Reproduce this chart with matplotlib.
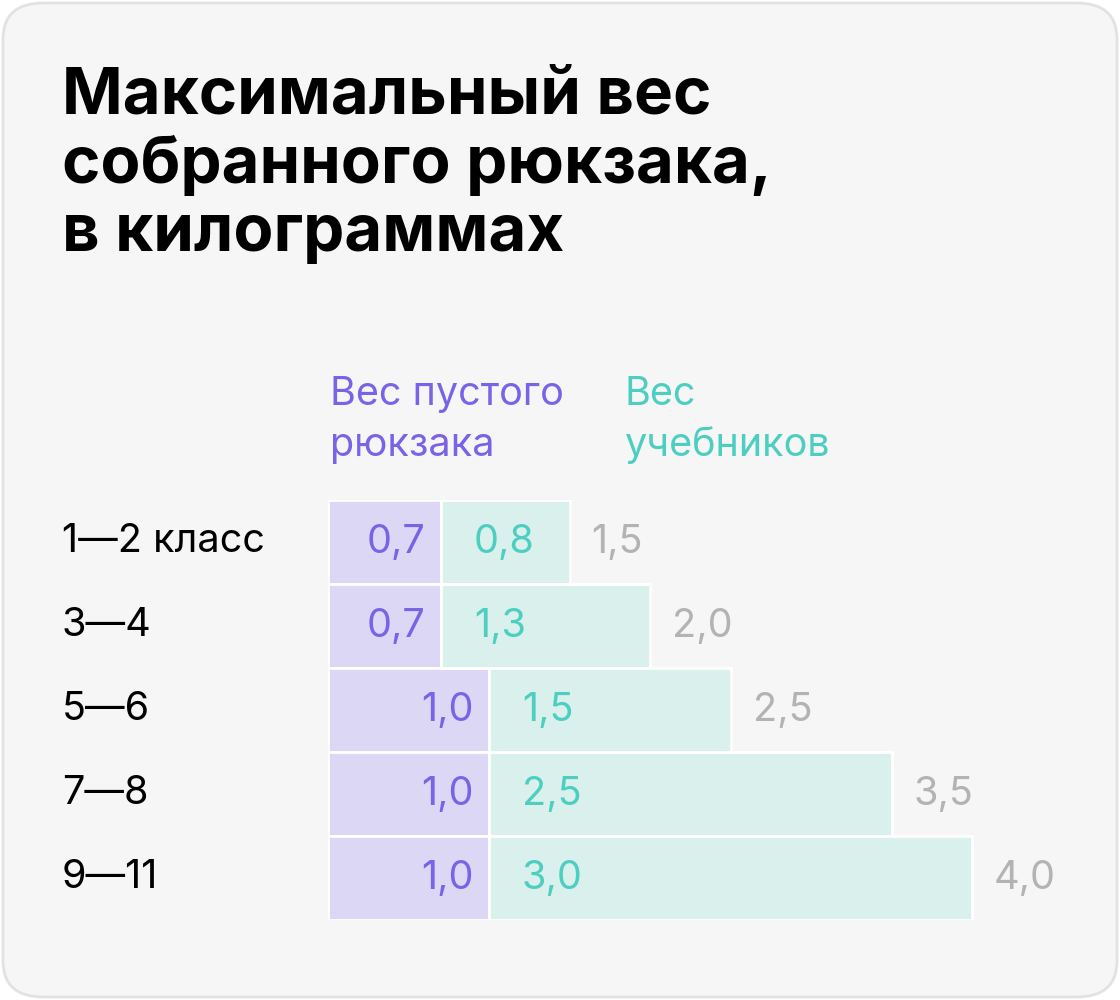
import matplotlib
matplotlib.use("Agg")
import matplotlib.pyplot as plt
from matplotlib.patches import FancyBboxPatch

plt.rcParams["font.family"] = "Inter"

# data
categories = ["1—2 класс", "3—4", "5—6", "7—8", "9—11"]
empty_bag = [0.7, 0.7, 1.0, 1.0, 1.0]
books = [0.8, 1.3, 1.5, 2.5, 3.0]
totals = [1.5, 2.0, 2.5, 3.5, 4.0]

title = "Максимальный вес\nсобранного рюкзака,\nв килограммах"
legend_empty = "Вес пустого\nрюкзака"
legend_books = "Вес\nучебников"

purple_bar = "#ddd7f6"
purple_txt = "#7a63e6"
teal_bar = "#d9f0ec"
teal_txt = "#4ccfc0"
gray_txt = "#b3b3b3"

W, H = 1120, 1000
fig = plt.figure(figsize=(W / 100, H / 100), dpi=100)
fig.patch.set_facecolor("white")

card = FancyBboxPatch((3 / W, 3 / H), 1114 / W, 994 / H,
                      boxstyle="round,pad=0,rounding_size=0.036",
                      transform=fig.transFigure, facecolor="#f6f6f6",
                      edgecolor="#e2e2e2", linewidth=2, zorder=-10)
fig.patches.append(card)

fig.text(62 / W, 1 - 66 / H, title, fontsize=47, fontweight="bold",
         va="top", ha="left", linespacing=1.18, color="black")

fig.text(330 / W, 1 - 420 / H, legend_empty, fontsize=28.5, color=purple_txt,
         va="center", ha="left", linespacing=1.45)
fig.text(625 / W, 1 - 420 / H, legend_books, fontsize=28.5, color=teal_txt,
         va="center", ha="left", linespacing=1.45)

px_per_kg = 161
x0, y_top, y_bot = 328, 500, 920
ax = fig.add_axes([x0 / W, 1 - y_bot / H, (W - x0) / W, (y_bot - y_top) / H])
ax.set_xlim(0, (W - x0) / px_per_kg)
ax.set_ylim(len(categories), 0)
ax.patch.set_alpha(0)
ax.axis("off")

ys = [i + 0.5 for i in range(len(categories))]
ax.barh(ys, empty_bag, height=1.0, color=purple_bar, edgecolor="white", linewidth=2)
ax.barh(ys, books, left=empty_bag, height=1.0, color=teal_bar, edgecolor="white", linewidth=2)

for y, cat, e, b, t in zip(ys, categories, empty_bag, books, totals):
    fig_y = 1 - (y_top + y / len(categories) * (y_bot - y_top)) / H
    fig.text(62 / W, fig_y, cat, fontsize=28.5, va="center", ha="left", color="black")
    ax.text(e - 15 / px_per_kg, y, f"{e:.1f}".replace(".", ","), fontsize=28.5,
            color=purple_txt, va="center", ha="right")
    ax.text(e + 33 / px_per_kg, y, f"{b:.1f}".replace(".", ","), fontsize=28.5,
            color=teal_txt, va="center", ha="left")
    ax.text(t + 22 / px_per_kg, y, f"{t:.1f}".replace(".", ","), fontsize=28.5,
            color=gray_txt, va="center", ha="left")

fig.savefig("out.png", dpi=100)
